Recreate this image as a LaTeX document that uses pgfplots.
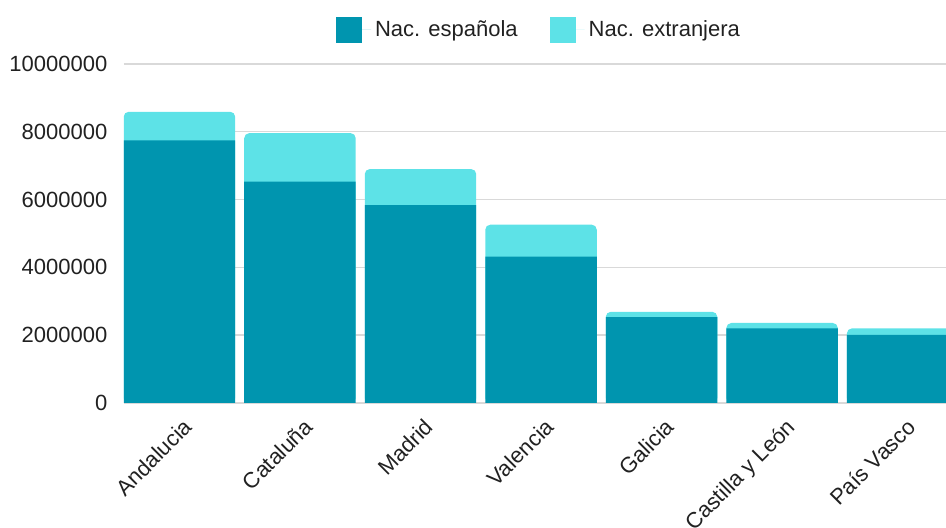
\documentclass[border=0pt]{standalone}
\usepackage{pgfplots}
\pgfplotsset{compat=1.18}
\usepackage{fontspec}
\setmainfont{Liberation Sans}
\definecolor{dark}{RGB}{0,149,175}
\definecolor{light}{RGB}{93,226,231}
\definecolor{gridc}{RGB}{217,217,217}
\definecolor{txt}{RGB}{33,33,33}
\begin{document}
\begin{tikzpicture}
\begin{axis}[
  at={(0,0)}, anchor=south west,
  scale only axis, width=411pt, height=169.5pt,
  xmin=-0.46, xmax=6.36, ymin=0, ymax=10000000,
  axis line style={draw=none},
  major tick length=0pt,
  ymajorgrids, grid style={gridc, line width=0.7pt},
  xtick={0,...,6},
  xticklabels={Andalucia,Cataluña,Madrid,Valencia,Galicia,Castilla y León,País Vasco},
  xticklabel style={rotate=45, anchor=north east, font=\fontsize{11}{13}\selectfont, text=txt, yshift=-2.6pt, xshift=-0.6pt},
  ytick={0,2000000,4000000,6000000,8000000,10000000},
  yticklabel style={font=\fontsize{11}{13}\selectfont, text=txt, xshift=-4.8pt},
  scaled y ticks=false,
  /pgf/number format/assume math mode=true,
  /pgf/number format/fixed, /pgf/number format/1000 sep={},
  legend style={at={(0.5,1)}, anchor=center, yshift=17pt, xshift=2.5pt, draw=none, fill=none,
    font=\fontsize{11}{13}\selectfont, text=txt, legend columns=2,
    /tikz/every even column/.append style={column sep=14pt}},
  legend image code/.code={\fill[#1] (0pt,-6.5pt) rectangle (13pt,6.5pt); \path (13pt,0pt) -- (17.5pt,0pt);},
  legend cell align=left,
]
% Nac. extranjera drawn as total height (stack top) with rounded top
\addplot[ybar, bar width=0.925, bar shift=0pt, fill=light, draw=none, rounded corners=2.5pt, forget plot]
  coordinates {(0,8590000) (1,7960000) (2,6900000) (3,5260000) (4,2690000) (5,2360000) (6,2200000)};
% Nac. espanola
\addplot[ybar, bar width=0.925, bar shift=0pt, fill=dark, draw=none]
  coordinates {(0,7750000) (1,6530000) (2,5840000) (3,4320000) (4,2530000) (5,2200000) (6,2010000)};
\addlegendentry{Nac. española}
\addlegendimage{fill=light, draw=none}
\addlegendentry{Nac. extranjera}
\end{axis}
\pgfresetboundingbox
\path[use as bounding box] (-62pt,-62.5pt) rectangle (411pt,201.5pt);
\end{tikzpicture}
\end{document}
